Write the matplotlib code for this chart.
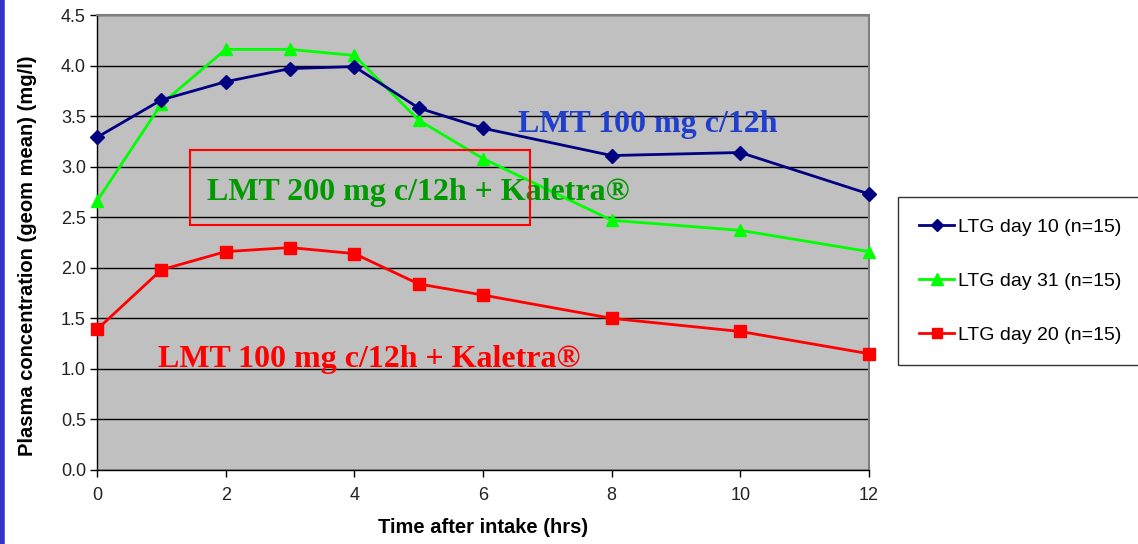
import matplotlib
matplotlib.use("Agg")
import matplotlib.pyplot as plt
from matplotlib.patches import Rectangle
from matplotlib.lines import Line2D

hours = [0, 1, 2, 3, 4, 5, 6, 8, 10, 12]
day10 = [3.29, 3.66, 3.84, 3.97, 3.99, 3.58, 3.38, 3.11, 3.14, 2.73]
day31 = [2.66, 3.62, 4.16, 4.16, 4.10, 3.46, 3.08, 2.47, 2.37, 2.16]
day20 = [1.39, 1.98, 2.16, 2.20, 2.14, 1.84, 1.73, 1.50, 1.37, 1.15]
labels = ["LTG day 10 (n=15)", "LTG day 31 (n=15)", "LTG day 20 (n=15)"]
x_ticks = [0, 2, 4, 6, 8, 10, 12]
y_ticks = [0.0, 0.5, 1.0, 1.5, 2.0, 2.5, 3.0, 3.5, 4.0, 4.5]

plt.rcParams['font.family'] = ['Liberation Sans', 'DejaVu Sans']

W, H = 1138, 544
fig = plt.figure(figsize=(W / 100, H / 100), dpi=100)
ax = fig.add_axes([97 / W, 1 - 470 / H, (869 - 97) / W, (470 - 15) / H])
ax.set_facecolor('#C0C0C0')

ax.set_xlim(0, 12)
ax.set_ylim(0, 4.5)
ax.set_xticks(x_ticks)
ax.set_yticks(y_ticks)
ax.set_yticklabels([f"{v:.1f}" for v in y_ticks])
ax.tick_params(axis='both', direction='out', length=5, width=1, labelsize=13,
               colors='black', labelcolor='#222222')
ax.tick_params(axis='y', pad=3)
ax.tick_params(axis='x', pad=7)
ax.yaxis.grid(True, color='black', linewidth=1)
ax.set_axisbelow(True)
for s in ['top', 'right']:
    ax.spines[s].set_color('#808080')
    ax.spines[s].set_linewidth(1.5)
for s in ['left', 'bottom']:
    ax.spines[s].set_color('black')
    ax.spines[s].set_linewidth(1)

l1, = ax.plot(hours, day10, color='#000080', marker='D', markersize=7, linewidth=2, clip_on=False, zorder=4)
l2, = ax.plot(hours, day31, color='#00FF00', marker='^', markersize=9, linewidth=2, clip_on=False, zorder=3)
l3, = ax.plot(hours, day20, color='#FF0000', marker='s', markersize=8, linewidth=2, clip_on=False, zorder=3)

ax.set_xlabel("Time after intake (hrs)", fontsize=14.5, fontweight='bold', labelpad=10)
ax.set_ylabel("Plasma concentration (geom mean) (mg/l)", fontsize=14.5, fontweight='bold')
ax.yaxis.set_label_coords(-0.0775, 0.47)

serif = ['Liberation Serif', 'DejaVu Serif']
ax.text(6.54, 3.42, "LMT 100 mg c/12h", color='#1F3FCC', fontsize=23, fontweight='bold',
        family=serif, ha='left', va='center', zorder=5)
ax.text(1.71, 2.74, "LMT 200 mg c/12h + Kaletra®", color='#009900', fontsize=23, fontweight='bold',
        family=serif, ha='left', va='center', zorder=5)
ax.text(0.95, 1.09, "LMT 100 mg c/12h + Kaletra®", color='#FF0000', fontsize=23, fontweight='bold',
        family=serif, ha='left', va='center', zorder=5)
ax.add_patch(Rectangle((1.45, 2.42), 5.28, 0.745, fill=False, edgecolor='#FF0000', linewidth=1.5, zorder=5))

leg = fig.legend([l1, l2, l3], labels, loc='upper left', bbox_to_anchor=(898 / W, 1 - 197 / H),
                 fontsize=14, frameon=True, fancybox=False, edgecolor='black', labelspacing=1.87,
                 handlelength=1.8, handletextpad=0.2, borderpad=1.1, markerscale=0.9,
                 borderaxespad=0)
leg.get_frame().set_linewidth(1)

fig.add_artist(Line2D([2 / W, 2 / W], [0, 1], color='#3333CC', linewidth=4, transform=fig.transFigure))

fig.savefig('out.png', dpi=100)
